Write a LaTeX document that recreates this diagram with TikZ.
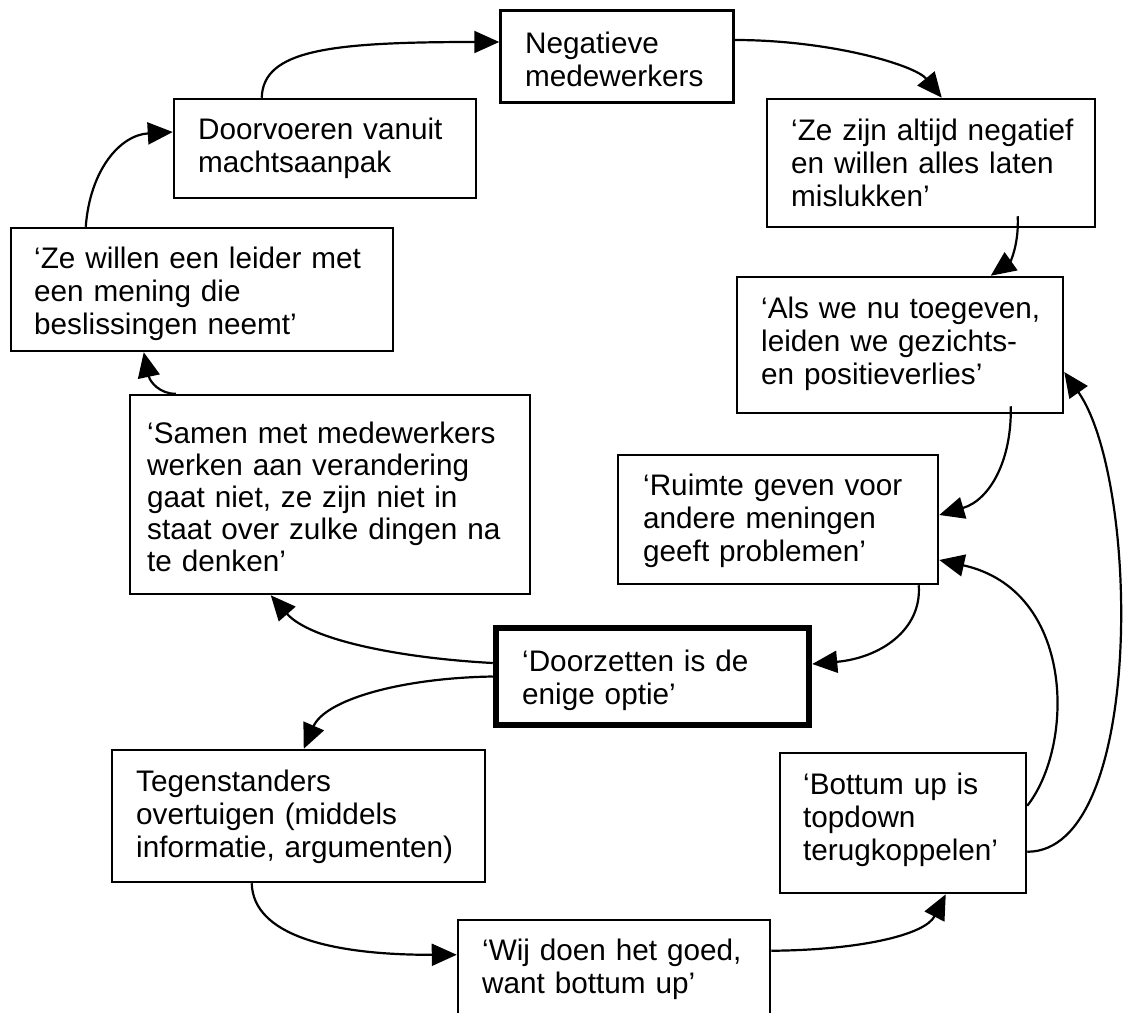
\documentclass[tikz,border=0pt]{standalone}
\usepackage{fontspec}
\setmainfont{Liberation Sans}
\usetikzlibrary{arrows.meta}

\tikzset{
  box/.style={draw, rectangle, line width=2.5pt, inner sep=0pt, fill=white},
  keybox/.style={box, line width=6.5pt},
  txt/.style={inner sep=0pt, anchor=base west, align=left, text width=400pt,
    font=\fontsize{29.7pt}{33pt}\selectfont},
  conn/.style={line width=2.2pt, -{Triangle[length=25pt,width=22pt]}},
}

\begin{document}
\begin{tikzpicture}[x=1pt, y=1pt]
\useasboundingbox (0,0) rectangle (1124,-1012);
\clip (0,0) rectangle (1124,-1012);

% boxes
\node[box, minimum width=233pt, minimum height=92pt]  (neg)    at (617,-56.6)  {};
\node[box, minimum width=302pt, minimum height=99pt]  (doorv)  at (325,-148.5) {};
\node[box, minimum width=328pt, minimum height=128pt] (zezijn) at (931,-163)   {};
\node[box, minimum width=382pt, minimum height=123pt] (zewil)  at (202,-289.5) {};
\node[box, minimum width=326pt, minimum height=136pt] (alswe)  at (900,-345)   {};
\node[box, minimum width=400pt, minimum height=199pt] (samen)  at (330,-494.5) {};
\node[box, minimum width=320pt, minimum height=129pt] (ruimte) at (778,-519.5) {};
\node[keybox, minimum width=313pt, minimum height=97pt] (doorz) at (652.5,-676.5) {};
\node[box, minimum width=373pt, minimum height=132pt] (tegen)  at (298.5,-816) {};
\node[box, minimum width=246pt, minimum height=140pt] (bottum) at (903,-823)   {};
\node[box, minimum width=312pt, minimum height=120pt] (wij)    at (614,-980)   {};

% texts
\node[txt] (neg-t)    at (525,-53)  {Negatieve\\medewerkers};
\node[txt] (doorv-t)  at (198,-139) {Doorvoeren vanuit\\machtsaanpak};
\node[txt] (zezijn-t) at (791,-140) {‘Ze zijn altijd negatief\\en willen alles laten\\mislukken’};
\node[txt] (zewil-t)  at (34,-268)  {‘Ze willen een leider met\\een mening die\\beslissingen neemt’};
\node[txt] (alswe-t)  at (761,-318) {‘Als we nu toegeven,\\leiden we gezichts-\\en positieverlies’};
\node[txt, font=\fontsize{29.7pt}{32pt}\selectfont] (samen-t) at (147,-443)
  {‘Samen met medewerkers\\werken aan verandering\\gaat niet, ze zijn niet in\\staat over zulke dingen na\\te denken’};
\node[txt] (ruimte-t) at (643,-495) {‘Ruimte geven voor\\andere meningen\\geeft problemen’};
\node[txt] (doorz-t)  at (522,-671) {‘Doorzetten is de\\enige optie’};
\node[txt] (tegen-t)  at (136,-791) {Tegenstanders\\overtuigen (middels\\informatie, argumenten)};
\node[txt] (bottum-t) at (803,-794) {‘Bottum up is\\topdown\\terugkoppelen’};
\node[txt] (wij-t)    at (482,-960) {‘Wij doen het goed,\\want bottum up’};

% connectors
\draw[conn] ([shift={(89,0)}]doorv.north west) .. controls (263,-50) and (330,-42) .. ([shift={(0,14.6)}]neg.west);
\draw[conn] ([shift={(0,16.6)}]neg.east) .. controls (830,-40) and (915,-65) .. ([shift={(176,0)}]zezijn.north west);
\draw[conn] ([shift={(252,12)}]zezijn.south west) .. controls (1019,-245) and (1010,-262) .. ([shift={(255,0)}]alswe.north west);
\draw[conn] ([shift={(275,8)}]alswe.south west) .. controls (1012,-460) and (990,-500) .. ([shift={(0,4.5)}]ruimte.east);
\draw[conn] ([shift={(302,0)}]ruimte.south west) .. controls (922,-630) and (880,-658) .. ([shift={(0,12.5)}]doorz.east);
\draw[conn] ([shift={(0,13.5)}]doorz.west) .. controls (400,-658) and (310,-640) .. ([shift={(142,0)}]samen.south west);
\draw[conn] (doorz.west) .. controls (400,-678) and (325,-700) .. ([shift={(193,0)}]tegen.north west);
\draw[conn] ([shift={(47,0)}]samen.north west) .. controls (160,-394) and (150,-382) .. ([shift={(134,0)}]zewil.south west);
\draw[conn] ([shift={(76,0)}]zewil.north west) .. controls (90,-170) and (120,-135) .. ([shift={(0,16.5)}]doorv.west);
\draw[conn] ([shift={(141,0)}]tegen.south west) .. controls (253,-935) and (330,-955) .. ([shift={(0,-36)}]wij.north west);
\draw[conn] ([shift={(0,-32)}]wij.north east) .. controls (860,-950) and (925,-935) .. ([shift={(167,0)}]bottum.south west);
\draw[conn] ([shift={(0,-54)}]bottum.north east) .. controls (1075,-745) and (1075,-590) .. ([shift={(0,-40.5)}]ruimte.east);
\draw[conn] ([shift={(0,-100)}]bottum.north east) .. controls (1145,-852) and (1140,-480) .. ([shift={(0,-27)}]alswe.east);
\end{tikzpicture}
\end{document}
